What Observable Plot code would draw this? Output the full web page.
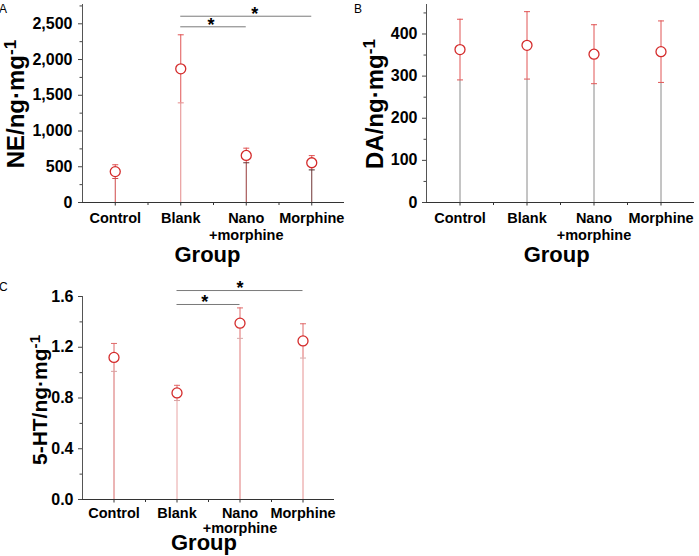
<!DOCTYPE html>
<html><head><meta charset="utf-8">
<script src="https://cdn.jsdelivr.net/npm/d3@7"></script>
<script src="https://cdn.jsdelivr.net/npm/@observablehq/plot@0.6"></script>
<style>
body{margin:0;background:#fff;}
#root{position:relative;width:699px;height:556px;overflow:hidden;font-family:"Liberation Sans",Arial,sans-serif;}
#root svg{position:absolute;overflow:visible;}
</style></head><body><div id="root"></div>
<script>
// ---- data ----
const groups = ["Control", "Blank", "Nano\n+morphine", "Morphine"];
const neMean = [432, 1870, 658, 556];
const neSD   = [96, 476, 102, 100];
const daMean = [363, 373, 352, 358];
const daSD   = [72, 80, 70, 73];
const htMean = [1.12, 0.84, 1.39, 1.25];
const htSD   = [0.11, 0.06, 0.12, 0.135];
const neTicks = [0, 500, 1000, 1500, 2000, 2500];
const neMinor = [250, 750, 1250, 1750, 2250, 2750];
const daTicks = [0, 100, 200, 300, 400];
const daMinor = [50, 150, 250, 350, 450];
const htTicks = [0, 0.4, 0.8, 1.2, 1.6];
const htMinor = [0.2, 0.6, 1.0, 1.4];
// significance brackets: from/to group, level (y units), star position (group index units)
const neSig = [{from: "Blank", to: "Nano\n+morphine", level: 2458, star: 2.46},
               {from: "Blank", to: "Morphine", level: 2606, star: 3.13}];
const htSig = [{from: "Blank", to: "Nano\n+morphine", level: 1.537, star: 2.44},
               {from: "Blank", to: "Morphine", level: 1.647, star: 3.0}];

const FONT = '"Liberation Sans", Arial, sans-serif';
const idx = g => groups.indexOf(g) + 1;
const hbar = {draw(ctx, size) { const r = Math.sqrt(size / Math.PI); ctx.moveTo(-r, 0); ctx.lineTo(r, 0); }};

function panel(cfg) {
  const rows = groups.map((g, i) => ({g, i: i + 1, m: cfg.mean[i], lo: cfg.mean[i] - cfg.sd[i], hi: cfg.mean[i] + cfg.sd[i],
                                       stem: cfg.stem[i], low: cfg.lowCap[i]}));
  const L = cfg.layout;
  const marks = [
    Plot.axisY({ticks: cfg.minor, tickSize: 2.5, tickFormat: () => "", stroke: "#444", label: null}),
    Plot.axisY({ticks: cfg.ticks, tickSize: 4, tickPadding: cfg.tickPad, tickFormat: cfg.fmt, fontSize: 16, fontWeight: "bold",
                fontFamily: FONT, fill: "black", stroke: "#444", label: null}),
    Plot.axisX({ticks: [1.5, 2.5, 3.5], tickSize: 3, tickFormat: () => "", stroke: "#333", label: null}),
    Plot.axisX({ticks: [1, 2, 3, 4], tickSize: 3.5, tickFormat: () => "", stroke: "#333", label: null}),
    Plot.ruleX([0.5], {stroke: "#555"}),
    Plot.ruleY([0], {stroke: "#333"}),
    Plot.ruleX(rows, {x: "i", y1: 0, y2: "lo", stroke: "stem", strokeWidth: 1}),
    Plot.ruleX(rows, {x: "i", y1: "lo", y2: "hi", stroke: cfg.err, strokeWidth: 1}),
    Plot.dot(rows, {x: "i", y: "hi", symbol: hbar, r: 3, stroke: cfg.err, fill: "none", strokeWidth: 1}),
    Plot.dot(rows, {x: "i", y: "lo", symbol: hbar, r: 3, stroke: "low", fill: "none", strokeWidth: 1}),
    Plot.dot(rows, {x: "i", y: "m", r: 5, stroke: "#d42b2b", fill: "white", strokeWidth: 1.3}),
    Plot.text(groups, {x: (d, i) => i + 1, text: d => d, frameAnchor: "bottom", lineAnchor: "top", dy: cfg.labDy,
                       fontSize: 14.5, fontWeight: "bold", fontFamily: FONT, lineHeight: cfg.lh, fill: "black"})
  ];
  if (cfg.sig) {
    marks.push(Plot.ruleY(cfg.sig, {x1: d => idx(d.from), x2: d => idx(d.to), y: "level", stroke: "#7a7a7a", strokeWidth: 1}));
    marks.push(Plot.text(cfg.sig, {x: "star", y: "level", text: () => "*", fontSize: 18, fontWeight: "bold", fontFamily: FONT,
                                   fill: "black", dy: -2}));
  }
  const svg = Plot.plot({
    width: L.w, height: L.h,
    marginLeft: L.ml, marginRight: L.mr, marginTop: L.mt, marginBottom: L.mb,
    x: {domain: [0.5, 4.5], axis: null, label: null},
    y: {domain: cfg.domain, axis: null, label: null},
    color: {type: "identity"},
    style: {fontFamily: FONT, background: "transparent", overflow: "visible"},
    marks
  });
  svg.style.left = L.left + "px";
  svg.style.top = L.top + "px";
  const s = d3.select(svg);
  // panel letter
  s.append("text").attr("x", cfg.letterPos[0]).attr("y", cfg.letterPos[1]).attr("font-size", 12)
    .attr("font-family", FONT).attr("fill", "black").text(cfg.letter);
  // y label with superscript
  const t = s.append("text").attr("transform", `translate(${cfg.yLab[0]},${cfg.yLab[1]}) rotate(-90)`)
    .attr("text-anchor", "middle").attr("font-size", cfg.yLabSize).attr("font-weight", "bold")
    .attr("font-family", FONT).attr("fill", "black");
  t.append("tspan").text(cfg.yLabel);
  t.append("tspan").attr("dy", "-0.45em").attr("font-size", "0.72em").text("-1");
  // x title
  s.append("text").attr("x", cfg.grp[0]).attr("y", cfg.grp[1]).attr("text-anchor", "middle")
    .attr("font-size", 22).attr("font-weight", "bold").attr("font-family", FONT).attr("fill", "black").text("Group");
  document.getElementById("root").appendChild(svg);
}

panel({
  mean: neMean, sd: neSD, ticks: neTicks, minor: neMinor, domain: [0, 2770], fmt: d3.format(","), sig: neSig,
  stem: ["#cf4a4a", "#e48a8a", "#973838", "#6f3434"], lowCap: ["#cf4a4a", "#e48a8a", "#6a3030", "#4a2a2a"], err: "#e05555",
  layout: {left: 0, top: 0, w: 350, h: 268, ml: 82, mr: 6, mt: 4, mb: 66}, tickPad: 6, labDy: 8, lh: 1.18,
  letter: "A", letterPos: [3, 13.3], yLabel: "NE/ng·mg", yLab: [24, 104], yLabSize: 24, grp: [207.5, 262]
});
panel({
  mean: daMean, sd: daSD, ticks: daTicks, minor: daMinor, domain: [0, 470], fmt: d3.format("d"), sig: null,
  stem: ["#8a8a8a", "#8a8a8a", "#8a8a8a", "#8a8a8a"], lowCap: ["#e05555", "#e05555", "#e05555", "#e05555"], err: "#e05555",
  layout: {left: 340, top: 0, w: 359, h: 268, ml: 86, mr: 5, mt: 4, mb: 66}, tickPad: 5, labDy: 8.5, lh: 1.18,
  letter: "B", letterPos: [18, 13.3], yLabel: "DA/ng·mg", yLab: [43, 104], yLabSize: 24, grp: [216.7, 261.7]
});
panel({
  mean: htMean, sd: htSD, ticks: htTicks, minor: htMinor, domain: [0, 1.6], fmt: d3.format(".1f"), sig: htSig,
  stem: ["#d86a6a", "#e8a4a4", "#e07878", "#e69292"], lowCap: ["#d8a0a0", "#d8a0a0", "#d8a8a8", "#d8a8a8"], err: "#e06a6a",
  layout: {left: 0, top: 270, w: 340, h: 286, ml: 82, mr: 6, mt: 26, mb: 57}, tickPad: 5, labDy: 7.5, lh: 1.04,
  letter: "C", letterPos: [3.3, 20.7], yLabel: "5-HT/ng·mg", yLab: [46.7, 130], yLabSize: 21, grp: [204, 279.5]
});
</script></body></html>
